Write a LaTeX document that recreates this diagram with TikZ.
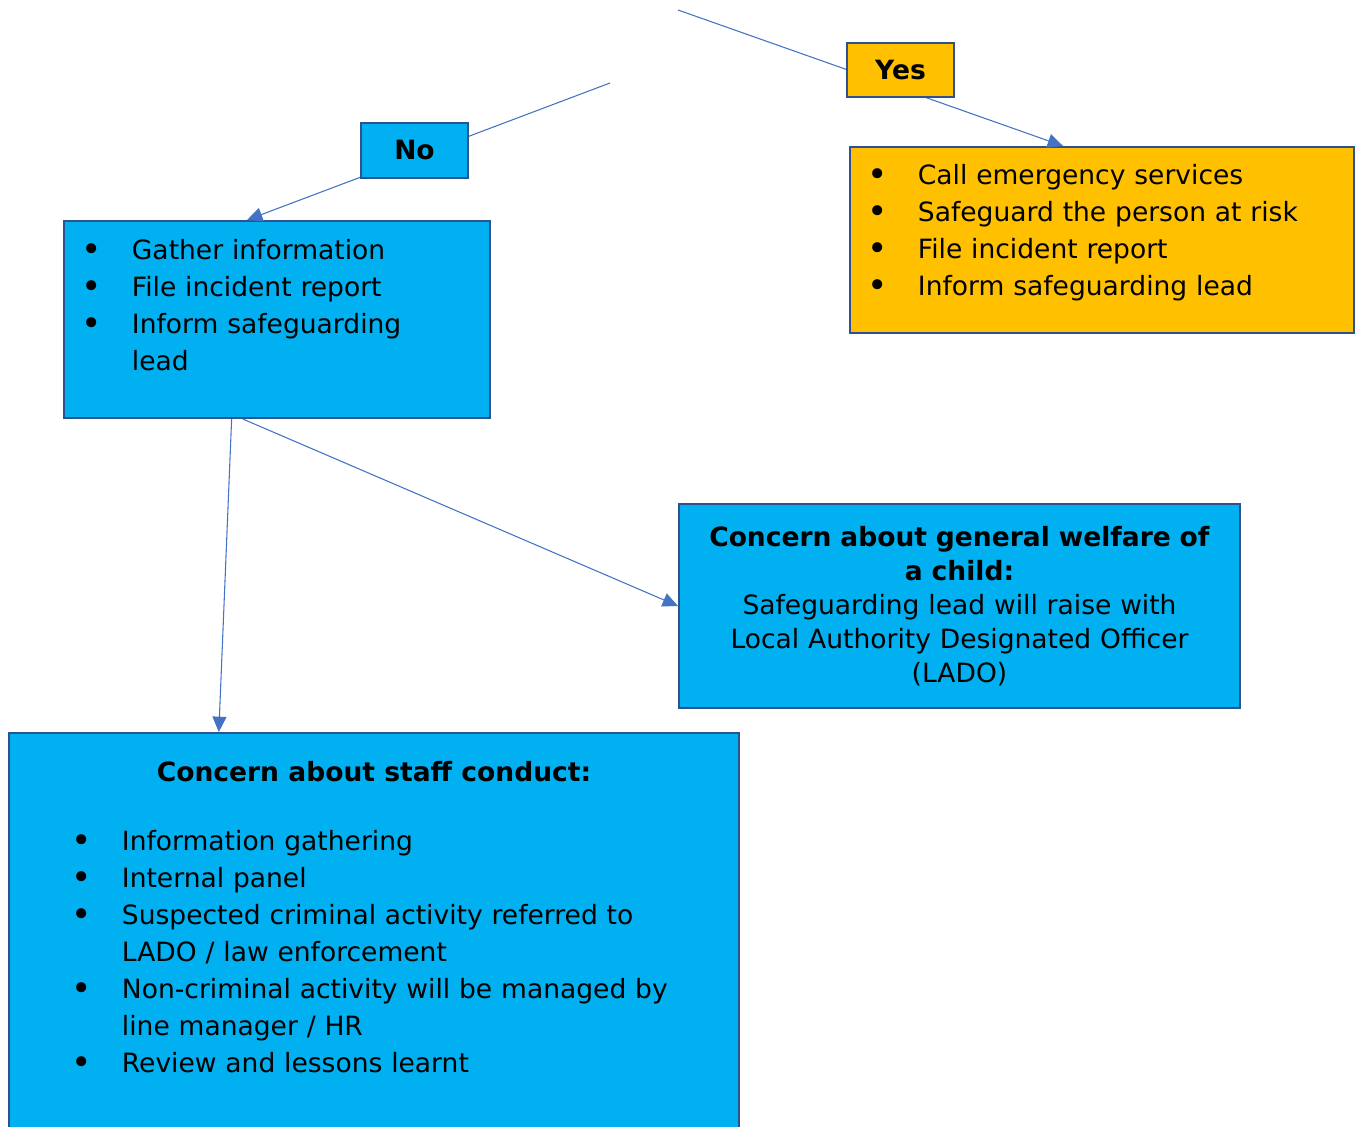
\documentclass[tikz,border=0pt]{standalone}
\usepackage{fontspec}
\setmainfont{DejaVu Sans}
\usetikzlibrary{arrows.meta,positioning,calc}
\definecolor{boxblue}{RGB}{0,176,240}
\definecolor{boxyellow}{RGB}{255,192,0}
\definecolor{edgeblue}{RGB}{47,82,143}
\definecolor{arrowblue}{RGB}{68,114,196}
\newlength{\bulind}\setlength{\bulind}{38pt}
\newcommand{\listfont}{\fontsize{19.9}{27.75}\selectfont}
\newcommand{\welfarefont}{\fontsize{19.9}{25.5}\selectfont}
\newcommand{\bul}[1]{\hangindent=\bulind\hangafter=1\noindent\makebox[\bulind][l]{\raisebox{-1.5pt}{\scalebox{1.3}{\textbullet}}}#1\par}
\setlength{\parskip}{0pt}
\begin{document}
\begin{tikzpicture}[x=0.75pt,y=-0.75pt,
    box/.style={draw=edgeblue,line width=1.5pt,fill=boxblue,anchor=north west,inner sep=0pt},
    yellowbox/.style={box,fill=boxyellow},
    listtext/.style={inner sep=0pt,text width=#1,align=left,font=\listfont},
    link/.style={draw=arrowblue,line width=0.8pt,-{Triangle[length=11.5pt,width=10.5pt]}}]
\useasboundingbox (0,0) rectangle (1359,1127);

% boxes
\node[box,minimum width=319.5pt,minimum height=147.75pt] (gather) at (63,220) {};
\node[yellowbox,minimum width=378pt,minimum height=139.5pt] (emerg) at (849,146) {};
\node[box,minimum width=420.75pt,minimum height=153pt,text width=410pt,align=center,font=\welfarefont] (welfare) at (678,503)
    {\textbf{Concern about general welfare of}\\\textbf{a child:}\\Safeguarding lead will raise with\\Local Authority Designated Officer\\(LADO)};
\node[box,minimum width=547.5pt,minimum height=306pt] (staff) at (8,732) {};

% box texts
\node[listtext=300pt,anchor=north west,below right=14pt and 13.5pt of gather.north west] (gathertext)
    {\bul{Gather information}\bul{File incident report}\bul{Inform safeguarding\newline lead}};
\node[listtext=340pt,anchor=north west,below right=13.25pt and 13.5pt of emerg.north west] (emergtext)
    {\bul{Call emergency services}\bul{Safeguard the person at risk}\bul{File incident report}\bul{Inform safeguarding lead}};
\node[inner sep=0pt,font=\listfont\bfseries,below=21.5pt of staff.north] (stafftitle) {Concern about staff conduct:};
\node[listtext=500pt,anchor=north west,below right=73.25pt and 47.25pt of staff.north west] (stafftext)
    {\bul{Information gathering}\bul{Internal panel}\bul{Suspected criminal activity referred to\newline LADO / law enforcement}%
     \bul{Non-criminal activity will be managed by\newline line manager / HR}\bul{Review and lessons learnt}};

% connectors
\coordinate (yesstart) at (678,10);
\coordinate (nostart) at (610,83);
\draw[link] (yesstart) -- ($(emerg.north west)!0.423!(emerg.north east)$);
\draw[link] (nostart) -- ($(gather.north west)!0.43!(gather.north east)$);
\draw[link] ($(gather.south west)!0.394!(gather.south east)$) -- ($(staff.north west)!0.288!(staff.north east)$);
\draw[link] ($(gather.south west)!0.42!(gather.south east)$) -- (welfare.west);

% labels on the lines
\node[yellowbox,minimum width=80.25pt,minimum height=40.5pt,font=\listfont\bfseries] (yes) at (846,42) {Yes};
\node[box,minimum width=80.25pt,minimum height=41.25pt,font=\listfont\bfseries] (no) at (360,122) {No};
\end{tikzpicture}
\end{document}
